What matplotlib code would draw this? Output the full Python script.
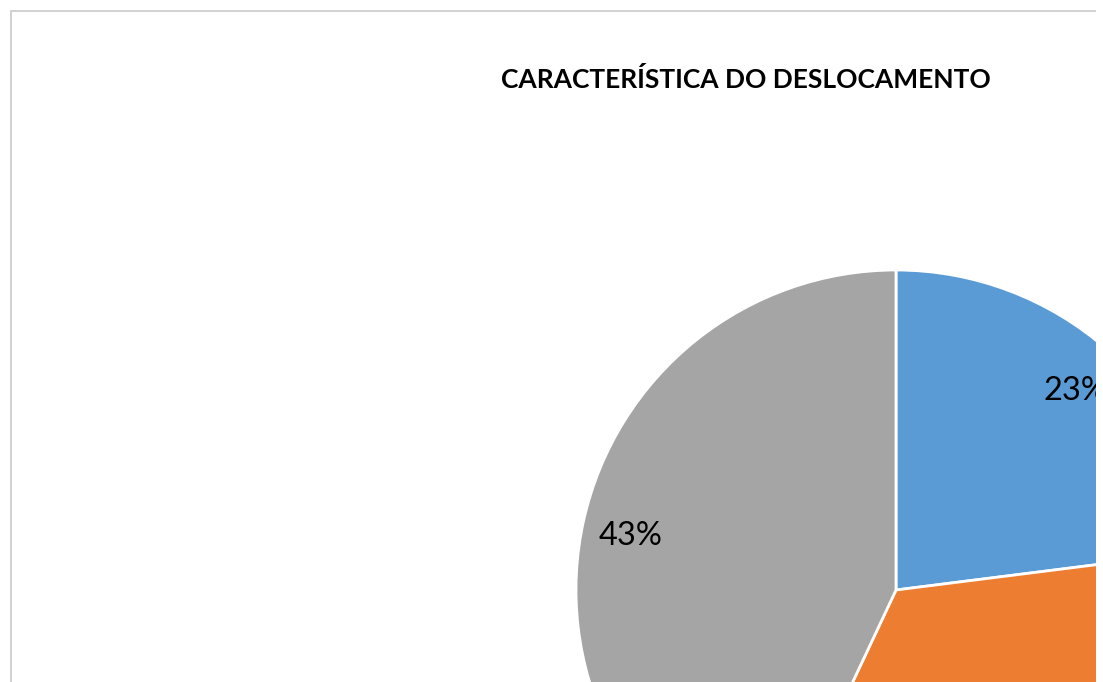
import matplotlib
matplotlib.use("Agg")
import matplotlib.pyplot as plt
from matplotlib.patches import Rectangle

title = "CARACTERÍSTICA DO DESLOCAMENTO"
values = [23, 34, 43]
colors = ["#5B9BD5", "#ED7D31", "#A5A5A5"]

W, H = 1103, 682
fig = plt.figure(figsize=(W / 100, H / 100), dpi=100)
fig.patch.set_facecolor("white")
# axes in pixel units, clipped at the right edge like the reference
ax = fig.add_axes([0, 0, 1096 / W, 1])

# chart-area border
ax.add_patch(Rectangle((11, -500), 1500, H - 11 + 500, fill=False,
                       edgecolor="#c9c9c9", linewidth=1.2, clip_on=True))

wedges, texts, autotexts = ax.pie(
    values, colors=colors, startangle=90, counterclock=False,
    center=(896, H - 590), radius=320, frame=True,
    autopct=lambda p: f"{p:.0f}%", pctdistance=0.85,
    wedgeprops=dict(edgecolor="white", linewidth=2),
    textprops=dict(fontsize=23.5, family="Lato", color="black"))
ax.set_xlim(0, 1096)
ax.set_ylim(0, H)
ax.set_aspect("equal")
ax.axis("off")
for w in wedges:
    w.set_clip_on(True)
for t in autotexts:
    t.set_clip_on(True)
    x, y = t.get_position()
    t.set_position((x, y - 5))

ax.text(746, H - 79, title, ha="center", va="center", fontsize=19,
        fontweight="bold", family="Lato", color="black")

fig.savefig("out.png", dpi=100, facecolor="white")
